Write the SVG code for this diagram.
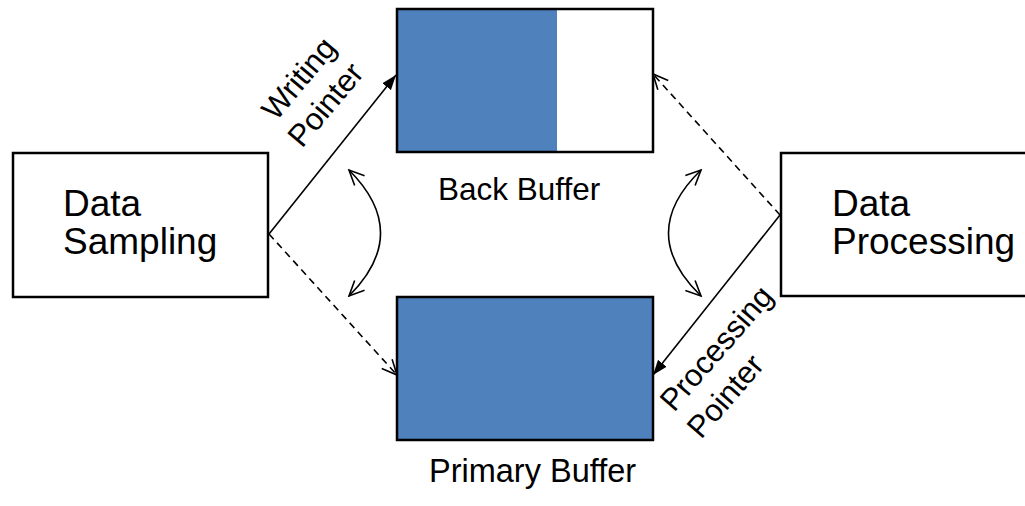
<svg xmlns="http://www.w3.org/2000/svg" width="1025" height="506" viewBox="0 0 1025 506">
<style>
.box{fill:#fff;stroke:#000;stroke-width:2.5}
.buf{stroke:#000;stroke-width:2.5}
.t{font-family:"Liberation Sans",Arial,sans-serif;fill:#000}
.ln{fill:none;stroke:#000;stroke-width:1.6}
.dash{stroke-dasharray:7 5}
</style>
<defs>
<marker id="fill" markerUnits="userSpaceOnUse" markerWidth="16" markerHeight="12" refX="15" refY="6" orient="auto">
<path d="M0,0.5 L15,6 L0,11.5 Z" fill="#000"/>
</marker>
<marker id="open" markerUnits="userSpaceOnUse" markerWidth="18" markerHeight="18" refX="16" refY="9" orient="auto-start-reverse">
<path d="M1,2 L16,9 L1,16" fill="none" stroke="#000" stroke-width="1.6"/>
</marker>
</defs>
<g id="sampling">
<rect class="box" x="13" y="153" width="255" height="144"/>
<text class="t" font-size="37" x="63" y="216">Data</text>
<text class="t" font-size="37" x="63" y="254">Sampling</text>
</g>
<g id="processing">
<rect class="box" x="781" y="153" width="260" height="143"/>
<text class="t" font-size="37" x="832" y="216">Data</text>
<text class="t" font-size="37" x="832" y="254">Processing</text>
</g>
<g id="back-buffer">
<rect x="397" y="9" width="160" height="143" fill="#4F81BD"/>
<rect x="397" y="9" width="256" height="143" fill="none" class="buf"/>
<text class="t" font-size="31.5" x="438" y="200">Back Buffer</text>
</g>
<g id="primary-buffer">
<rect x="397" y="297" width="256" height="143" fill="#4F81BD" class="buf"/>
<text class="t" font-size="32.5" x="429" y="482">Primary Buffer</text>
</g>
<g id="connectors">
<line class="ln" x1="269" y1="234" x2="396" y2="75" marker-end="url(#fill)"/>
<line class="ln dash" x1="269" y1="234" x2="397" y2="375" marker-end="url(#open)"/>
<line class="ln dash" x1="780" y1="215" x2="653" y2="74" marker-end="url(#open)"/>
<line class="ln" x1="780" y1="215" x2="653" y2="375" marker-end="url(#fill)"/>
<path class="ln" d="M349,170 Q412,233 349,296" marker-start="url(#open)" marker-end="url(#open)"/>
<path class="ln" d="M701,170 Q636,233 701,296" marker-start="url(#open)" marker-end="url(#open)"/>
</g>
<g id="labels">
<text class="t" font-size="31" transform="translate(276,122) rotate(-50)">Writing</text>
<text class="t" font-size="31" transform="translate(302,149) rotate(-50)">Pointer</text>
<text class="t" font-size="31" transform="translate(674,413) rotate(-49)">Processing</text>
<text class="t" font-size="31" transform="translate(701,440) rotate(-49)">Pointer</text>
</g>
</svg>
